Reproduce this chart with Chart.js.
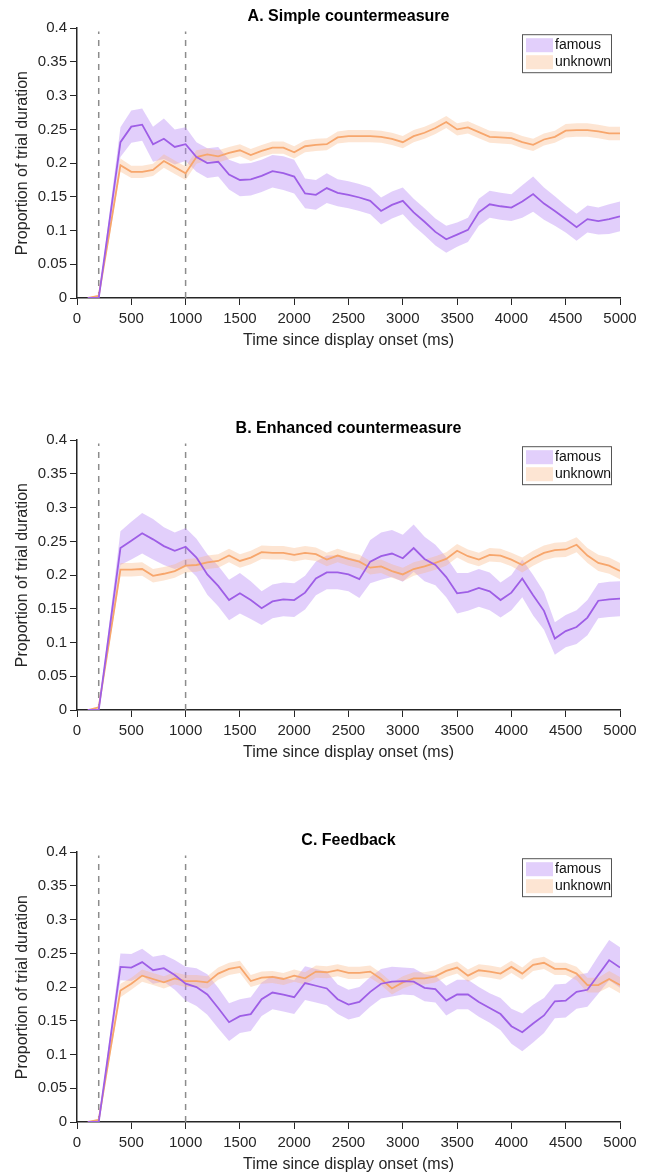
<!DOCTYPE html>
<html>
<head>
<meta charset="utf-8">
<script src="https://cdn.jsdelivr.net/npm/chart.js@4.4.1/dist/chart.umd.min.js"></script>
<style>
  body { margin: 0; background: #fff; }
  .panel { position: absolute; left: 0; width: 646px; height: 350px; }
</style>
</head>
<body>
<div class="panel" style="top:0px"><canvas id="chartA" width="646" height="350"></canvas></div>
<div class="panel" style="top:412px"><canvas id="chartB" width="646" height="350"></canvas></div>
<div class="panel" style="top:824px"><canvas id="chartC" width="646" height="350"></canvas></div>
<script>
// время (мс), шаг 100
const times = [100, 200, 300, 400, 500, 600, 700, 800, 900, 1000,
  1100, 1200, 1300, 1400, 1500, 1600, 1700, 1800, 1900, 2000,
  2100, 2200, 2300, 2400, 2500, 2600, 2700, 2800, 2900, 3000,
  3100, 3200, 3300, 3400, 3500, 3600, 3700, 3800, 3900, 4000,
  4100, 4200, 4300, 4400, 4500, 4600, 4700, 4800, 4900, 5000];

const markerTimes = [200, 1000];
const legendNames = ['famous', 'unknown'];
const panelTitles = ['A. Simple countermeasure', 'B. Enhanced countermeasure', 'C. Feedback'];
const yTicks = [0, 0.05, 0.1, 0.15, 0.2, 0.25, 0.3, 0.35, 0.4];
const xTicks = [0, 500, 1000, 1500, 2000, 2500, 3000, 3500, 4000, 4500, 5000];

// A. Simple countermeasure
const famousA = [0, 0, 0.115, 0.231, 0.254, 0.257, 0.228, 0.236, 0.224, 0.228,
  0.209, 0.200, 0.202, 0.183, 0.175, 0.176, 0.181, 0.188, 0.185, 0.180,
  0.155, 0.153, 0.163, 0.156, 0.153, 0.149, 0.144, 0.129, 0.138, 0.144,
  0.127, 0.113, 0.098, 0.087, 0.094, 0.101, 0.127, 0.139, 0.136, 0.134,
  0.143, 0.154, 0.140, 0.129, 0.117, 0.105, 0.117, 0.114, 0.117, 0.121];
const famousSeA = [0, 0, 0.012, 0.022, 0.024, 0.024, 0.026, 0.030, 0.026, 0.025,
  0.022, 0.022, 0.022, 0.022, 0.024, 0.024, 0.024, 0.024, 0.025, 0.025,
  0.022, 0.022, 0.022, 0.020, 0.020, 0.020, 0.020, 0.020, 0.020, 0.020,
  0.020, 0.020, 0.020, 0.020, 0.018, 0.018, 0.020, 0.020, 0.020, 0.020,
  0.024, 0.026, 0.024, 0.022, 0.020, 0.020, 0.020, 0.020, 0.022, 0.022];
const unknownA = [0, 0.003, 0.098, 0.197, 0.187, 0.187, 0.190, 0.203, 0.194, 0.185,
  0.209, 0.213, 0.210, 0.215, 0.219, 0.212, 0.218, 0.223, 0.223, 0.216,
  0.225, 0.227, 0.228, 0.238, 0.240, 0.240, 0.240, 0.239, 0.236, 0.231,
  0.240, 0.245, 0.252, 0.261, 0.250, 0.253, 0.246, 0.239, 0.238, 0.237,
  0.231, 0.227, 0.235, 0.239, 0.248, 0.249, 0.249, 0.247, 0.244, 0.244];
const unknownSeA = [0, 0.002, 0.006, 0.010, 0.009, 0.009, 0.009, 0.010, 0.010, 0.010,
  0.010, 0.009, 0.009, 0.009, 0.009, 0.009, 0.009, 0.009, 0.009, 0.009,
  0.009, 0.009, 0.009, 0.009, 0.009, 0.009, 0.009, 0.009, 0.009, 0.009,
  0.009, 0.009, 0.009, 0.009, 0.009, 0.009, 0.009, 0.009, 0.009, 0.009,
  0.009, 0.009, 0.009, 0.009, 0.010, 0.010, 0.010, 0.010, 0.010, 0.010];

// B. Enhanced countermeasure
const famousB = [0, 0, 0.120, 0.240, 0.251, 0.262, 0.253, 0.243, 0.236, 0.242,
  0.226, 0.201, 0.184, 0.163, 0.173, 0.163, 0.151, 0.161, 0.164, 0.163,
  0.174, 0.195, 0.204, 0.204, 0.201, 0.194, 0.220, 0.228, 0.232, 0.225,
  0.240, 0.224, 0.215, 0.197, 0.173, 0.175, 0.181, 0.176, 0.163, 0.174,
  0.195, 0.170, 0.147, 0.106, 0.117, 0.123, 0.137, 0.162, 0.164, 0.165];
const famousSeB = [0, 0, 0.012, 0.025, 0.028, 0.030, 0.030, 0.028, 0.027, 0.028,
  0.028, 0.030, 0.030, 0.030, 0.030, 0.028, 0.025, 0.025, 0.025, 0.025,
  0.025, 0.025, 0.025, 0.025, 0.025, 0.028, 0.032, 0.035, 0.035, 0.035,
  0.035, 0.033, 0.030, 0.030, 0.030, 0.028, 0.028, 0.028, 0.026, 0.026,
  0.028, 0.030, 0.028, 0.024, 0.024, 0.025, 0.026, 0.026, 0.026, 0.026];
const unknownB = [0, 0.004, 0.105, 0.208, 0.208, 0.209, 0.199, 0.202, 0.206, 0.214,
  0.215, 0.219, 0.221, 0.229, 0.221, 0.226, 0.234, 0.233, 0.233, 0.230,
  0.233, 0.231, 0.223, 0.229, 0.224, 0.220, 0.211, 0.213, 0.206, 0.201,
  0.209, 0.213, 0.218, 0.224, 0.236, 0.228, 0.223, 0.230, 0.229, 0.223,
  0.215, 0.225, 0.233, 0.237, 0.238, 0.245, 0.229, 0.218, 0.214, 0.206];
const unknownSeB = [0, 0.002, 0.006, 0.010, 0.010, 0.010, 0.010, 0.010, 0.010, 0.010,
  0.010, 0.010, 0.010, 0.010, 0.010, 0.010, 0.010, 0.010, 0.010, 0.010,
  0.010, 0.010, 0.010, 0.010, 0.010, 0.010, 0.010, 0.010, 0.010, 0.010,
  0.010, 0.010, 0.010, 0.010, 0.010, 0.010, 0.010, 0.010, 0.010, 0.010,
  0.011, 0.011, 0.011, 0.011, 0.011, 0.011, 0.011, 0.012, 0.012, 0.012];

// C. Feedback
const famousC = [0, 0, 0.115, 0.230, 0.229, 0.237, 0.225, 0.228, 0.218, 0.205,
  0.200, 0.189, 0.169, 0.148, 0.157, 0.160, 0.182, 0.192, 0.189, 0.185,
  0.206, 0.202, 0.198, 0.182, 0.174, 0.178, 0.193, 0.205, 0.208, 0.209,
  0.208, 0.199, 0.197, 0.180, 0.189, 0.189, 0.178, 0.169, 0.160, 0.142,
  0.133, 0.146, 0.158, 0.179, 0.180, 0.193, 0.196, 0.218, 0.240, 0.229];
const famousSeC = [0, 0, 0.010, 0.020, 0.020, 0.020, 0.020, 0.020, 0.022, 0.025,
  0.028, 0.030, 0.030, 0.028, 0.025, 0.025, 0.025, 0.025, 0.025, 0.025,
  0.025, 0.025, 0.025, 0.022, 0.022, 0.022, 0.022, 0.022, 0.022, 0.020,
  0.020, 0.020, 0.020, 0.022, 0.022, 0.022, 0.022, 0.022, 0.024, 0.026,
  0.028, 0.028, 0.026, 0.025, 0.025, 0.025, 0.025, 0.028, 0.030, 0.030];
const unknownC = [0, 0.003, 0.100, 0.195, 0.205, 0.217, 0.212, 0.207, 0.213, 0.209,
  0.209, 0.207, 0.220, 0.227, 0.230, 0.209, 0.214, 0.215, 0.212, 0.217,
  0.213, 0.223, 0.222, 0.225, 0.221, 0.221, 0.223, 0.212, 0.198, 0.207,
  0.213, 0.213, 0.216, 0.224, 0.229, 0.217, 0.225, 0.223, 0.220, 0.230,
  0.220, 0.233, 0.236, 0.227, 0.227, 0.220, 0.203, 0.203, 0.212, 0.203];
const unknownSeC = [0, 0.002, 0.006, 0.010, 0.009, 0.009, 0.009, 0.009, 0.009, 0.009,
  0.009, 0.009, 0.009, 0.009, 0.009, 0.009, 0.009, 0.009, 0.009, 0.009,
  0.009, 0.009, 0.009, 0.009, 0.009, 0.009, 0.009, 0.009, 0.009, 0.009,
  0.009, 0.009, 0.009, 0.009, 0.009, 0.009, 0.009, 0.009, 0.009, 0.009,
  0.009, 0.009, 0.009, 0.009, 0.009, 0.010, 0.011, 0.011, 0.012, 0.012];

const FONT = '"Liberation Sans", Arial, sans-serif';
const AXIS_COLOR = '#262626';
const famousLine = '#9e5ee6';
const famousBand = 'rgba(186, 140, 246, 0.42)';
const unknownLine = '#f7a66c';
const unknownBand = 'rgba(250, 180, 130, 0.35)';

// точки для линии и полосы ошибки
function toPoints(values, se, sign) {
  return times.map((t, i) => ({ x: t, y: values[i] + sign * se[i] }));
}

// легенда в рамке (справа сверху)
const boxLegendPlugin = {
  id: 'boxLegend',
  afterDraw(chart) {
    const { ctx, chartArea } = chart;
    const w = 89, h = 38;
    const left = chartArea.right - 9 - w;
    const top = chartArea.top + 6;
    const swatches = [famousBand, unknownBand];
    ctx.save();
    ctx.fillStyle = '#fff';
    ctx.fillRect(left, top, w, h);
    ctx.strokeStyle = '#555';
    ctx.lineWidth = 1;
    ctx.strokeRect(left + 0.5, top + 0.5, w, h);
    ctx.font = '14px ' + FONT;
    ctx.textBaseline = 'middle';
    legendNames.forEach((name, i) => {
      const y = top + 4 + i * 17;
      ctx.fillStyle = swatches[i];
      ctx.fillRect(left + 4, y, 27, 14);
      ctx.fillStyle = '#111';
      ctx.fillText(name, left + 33, y + 7);
    });
    ctx.restore();
  },
};

function makeChart(canvasId, title, famous, famousSe, unknown, unknownSe) {
  const markerSets = markerTimes.map((t) => ({
    data: [{ x: t, y: 0 }, { x: t, y: 0.395 }],
    borderColor: '#8c8c8c',
    borderWidth: 1.5,
    borderDash: [6, 6],
    pointRadius: 0,
    fill: false,
    order: 10,
  }));

  const datasets = [
    { label: 'famous', data: times.map((t, i) => ({ x: t, y: famous[i] })), borderColor: famousLine, borderWidth: 1.8, pointRadius: 0, fill: false, order: 0 },
    { label: 'unknown', data: times.map((t, i) => ({ x: t, y: unknown[i] })), borderColor: unknownLine, borderWidth: 1.8, pointRadius: 0, fill: false, order: 1 },
    { data: toPoints(unknown, unknownSe, 1), borderWidth: 0, pointRadius: 0, backgroundColor: unknownBand, fill: '+1', order: 2 },
    { data: toPoints(unknown, unknownSe, -1), borderWidth: 0, pointRadius: 0, fill: false, order: 3 },
    { data: toPoints(famous, famousSe, 1), borderWidth: 0, pointRadius: 0, backgroundColor: famousBand, fill: '+1', order: 4 },
    { data: toPoints(famous, famousSe, -1), borderWidth: 0, pointRadius: 0, fill: false, order: 5 },
    ...markerSets,
  ];

  return new Chart(document.getElementById(canvasId), {
    type: 'line',
    data: { datasets },
    options: {
      responsive: false,
      animation: false,
      events: [],
      layout: { padding: { left: 0, right: 26, top: 0, bottom: 0 } },
      plugins: {
        legend: { display: false },
        tooltip: { enabled: false },
        title: {
          display: true,
          text: title,
          fullSize: false,
          color: '#000',
          font: { family: FONT, size: 16, weight: 'bold' },
          padding: { top: 7, bottom: 2 },
        },
      },
      scales: {
        x: {
          type: 'linear',
          min: 0,
          max: 5000,
          afterBuildTicks: (scale) => { scale.ticks = xTicks.map((v) => ({ value: v })); },
          afterFit: (scale) => { scale.height = 52; },
          border: { color: AXIS_COLOR, width: 1.5 },
          grid: { drawOnChartArea: false, drawTicks: true, tickLength: 7, color: AXIS_COLOR },
          ticks: { color: '#262626', font: { family: FONT, size: 15 }, padding: 5, maxRotation: 0, callback: (v) => String(v) },
          title: { display: true, text: 'Time since display onset (ms)', color: '#262626', font: { family: FONT, size: 16 }, padding: { top: 0, bottom: 0 } },
        },
        y: {
          min: 0,
          max: 0.4,
          afterBuildTicks: (scale) => { scale.ticks = yTicks.map((v) => ({ value: v })); },
          afterFit: (scale) => { scale.width = 77; },
          border: { color: AXIS_COLOR, width: 1.5 },
          grid: { drawOnChartArea: false, drawTicks: true, tickLength: 7, color: AXIS_COLOR },
          ticks: { color: '#262626', font: { family: FONT, size: 15 }, padding: 3, callback: (v) => String(+v.toFixed(2)) },
          title: { display: true, text: 'Proportion of trial duration', color: '#262626', font: { family: FONT, size: 16 }, padding: { top: 13, bottom: 0 } },
        },
      },
    },
    plugins: [boxLegendPlugin],
  });
}

makeChart('chartA', panelTitles[0], famousA, famousSeA, unknownA, unknownSeA);
makeChart('chartB', panelTitles[1], famousB, famousSeB, unknownB, unknownSeB);
makeChart('chartC', panelTitles[2], famousC, famousSeC, unknownC, unknownSeC);
</script>
</body>
</html>
